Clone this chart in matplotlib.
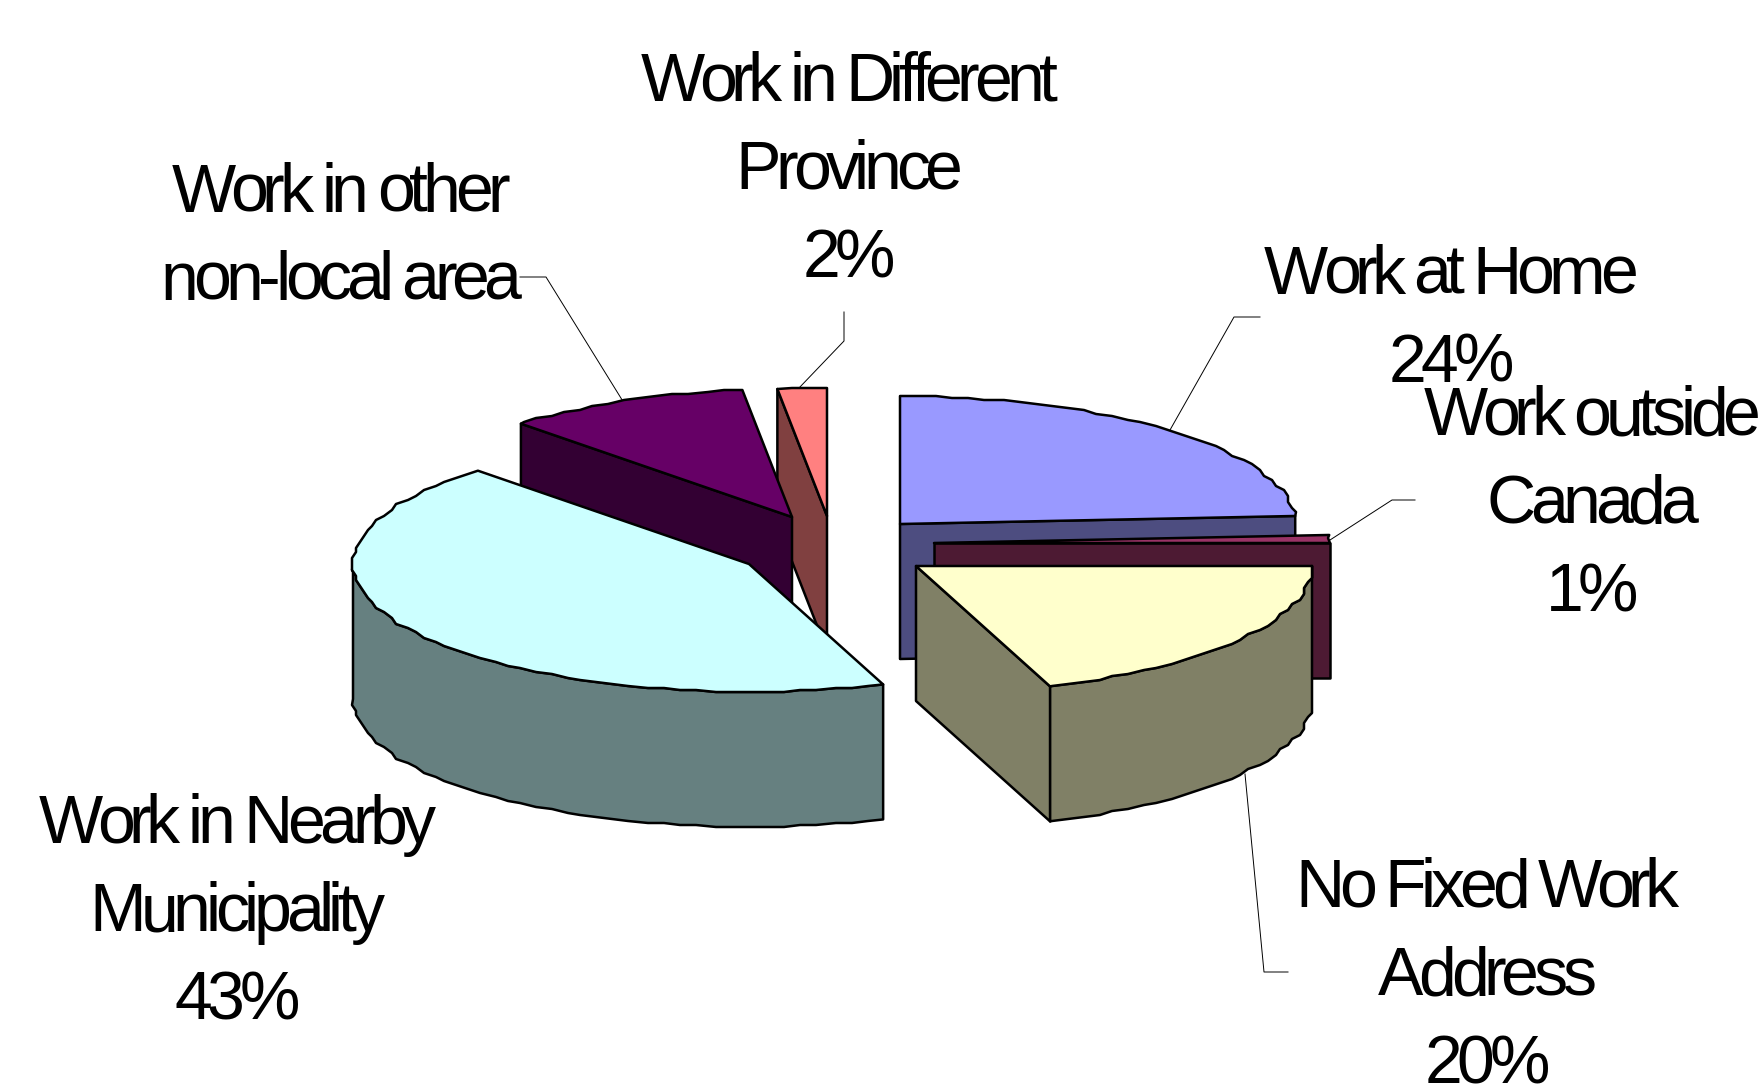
import numpy as np
import matplotlib
matplotlib.use("Agg")
import matplotlib.pyplot as plt
from matplotlib.patches import Polygon
from matplotlib.text import Text
from matplotlib.transforms import Bbox

categories = ["Work at Home", "Work outside Canada", "No Fixed Work Address",
              "Work in Nearby Municipality", "Work in other non-local area",
              "Work in Different Province"]
values = [24.0, 1.0, 19.5, 43.5, 10.0, 2.0]
label_texts = ["Work at Home\n24%", "Work outside\nCanada\n1%", "No Fixed Work\nAddress\n20%",
               "Work in Nearby\nMunicipality\n43%", "Work in other\nnon-local area",
               "Work in Different\nProvince\n2%"]

top_colors = ["#9999FF", "#993366", "#FFFFCC", "#CCFFFF", "#660066", "#FF8080"]
side_colors = ["#4D4D80", "#4D1A33", "#808066", "#668080", "#330033", "#804040"]
centers = [(900, 524), (934, 543), (916, 566), (749, 564), (792, 517), (827, 516)]
label_pos = [(1451, 316), (1592, 501), (1487, 973), (237, 909), (341, 234), (849, 167)]
leaders = [[(1260, 317), (1234, 317), (1170, 430)],
           [(1415, 500), (1392, 500), (1330, 540)],
           [(1288, 972), (1264, 972), (1245, 774)],
           None,
           [(520, 277), (546, 277), (624, 403)],
           [(844, 312), (844, 341), (799, 388)]]
draw_order = [0, 1, 5, 4, 3, 2]
RX, RY, DEPTH = 396, 128, 135
TRACKING = -5.4    # letter spacing, px
LINE_STEP = 88     # baseline distance, px
BASE_OFFSET = 22   # line centre to baseline, px
RIM_ANGLE = np.radians(2.5)   # coarse rim of the source picture
RIM_X, RIM_Y = 4, 2           # snapping grid of the rim, px


class TrackedText(Text):
    """Centred multi-line text with a negative letter spacing."""

    def _line_w(self, renderer, s):
        w, _, _ = renderer.get_text_width_height_descent(s, self.get_fontproperties(), False)
        return w

    def draw(self, renderer):
        if not self.get_visible():
            return
        gc = renderer.new_gc()
        gc.set_foreground(self.get_color())
        gc.set_antialiased(True)
        x0, y0 = self.get_transform().transform(self.get_position())
        H = renderer.height
        lines = self.get_text().split("\n")
        top = (H - y0) - (len(lines) - 1) / 2 * LINE_STEP + BASE_OFFSET
        for j, line in enumerate(lines):
            total = self._line_w(renderer, line) + (len(line) - 1) * TRACKING
            for k, ch in enumerate(line):
                if ch == " ":
                    continue
                off = self._line_w(renderer, line[:k]) if k else 0.0
                renderer.draw_text(gc, x0 - total / 2 + off + k * TRACKING,
                                   top + j * LINE_STEP, ch, self.get_fontproperties(), 0, False)
        gc.restore()

    def _get_layout(self, renderer):
        bb, info, desc = super()._get_layout(renderer)
        n = max(len(s) for s in self.get_text().split("\n"))
        cx = 0.5 * (bb.x0 + bb.x1)
        hw = 0.5 * max(bb.width + (n - 1) * TRACKING, 1)
        return Bbox.from_extents(cx - hw, bb.y0, cx + hw, bb.y1), info, desc


fig = plt.figure(figsize=(17.64, 10.88), dpi=100)
ax = fig.add_axes([0, 0, 1, 1])
ax.set_xlim(0, 1764)
ax.set_ylim(1088, 0)
ax.axis("off")

edges = np.cumsum([0] + values) / sum(values) * 2 * np.pi


def pt(c, a, dz=0.0):
    return (c[0] + RX * np.sin(a), c[1] - RY * np.cos(a) + dz)


def rim(c, a0, a1, dz=0.0):
    """Rim polyline on a fixed angle grid, snapped between its exact end points."""
    out = [pt(c, a0, dz)]
    k0 = int(np.floor(a0 / RIM_ANGLE)) + 1
    k1 = int(np.ceil(a1 / RIM_ANGLE))
    for a in np.arange(k0, k1) * RIM_ANGLE:
        x, y = pt(c, a)
        out.append((round(x / RIM_X) * RIM_X, round(y / RIM_Y) * RIM_Y + dz))
    out.append(pt(c, a1, dz))
    return out


LW = 1.8
for z, i in enumerate(draw_order):
    a0, a1 = edges[i], edges[i + 1]
    c = centers[i]
    base = z * 10 + 1
    kw = dict(edgecolor="black", linewidth=LW, joinstyle="round", zorder=base)
    if np.pi < a0 < 2 * np.pi:
        p = pt(c, a0)
        ax.add_patch(Polygon([c, p, (p[0], p[1] + DEPTH), (c[0], c[1] + DEPTH)],
                             facecolor=side_colors[i], **kw))
    if 0 < a1 < np.pi:
        p = pt(c, a1)
        ax.add_patch(Polygon([c, p, (p[0], p[1] + DEPTH), (c[0], c[1] + DEPTH)],
                             facecolor=side_colors[i], **kw))
    lo, hi = max(a0, np.pi / 2), min(a1, 3 * np.pi / 2)
    if hi > lo:
        ax.add_patch(Polygon(rim(c, lo, hi) + rim(c, lo, hi, DEPTH)[::-1],
                             facecolor=side_colors[i], **kw))
    ax.add_patch(Polygon([c] + rim(c, a0, a1), facecolor=top_colors[i],
                         edgecolor="black", linewidth=LW, joinstyle="round", zorder=base + 1))

for txt, pos, lead in zip(label_texts, label_pos, leaders):
    artist = TrackedText(pos[0], pos[1], txt, ha="center", va="center", ma="center",
                         color="black", fontsize=49, linespacing=1.19,
                         family=["Liberation Sans"], zorder=200)
    ax.add_artist(artist)
    artist.set_transform(ax.transData)
    if lead is not None:
        xs, ys = zip(*lead)
        ax.plot(xs, ys, color="black", lw=0.7, zorder=0)

fig.savefig("out.png", dpi=100, facecolor="white")
